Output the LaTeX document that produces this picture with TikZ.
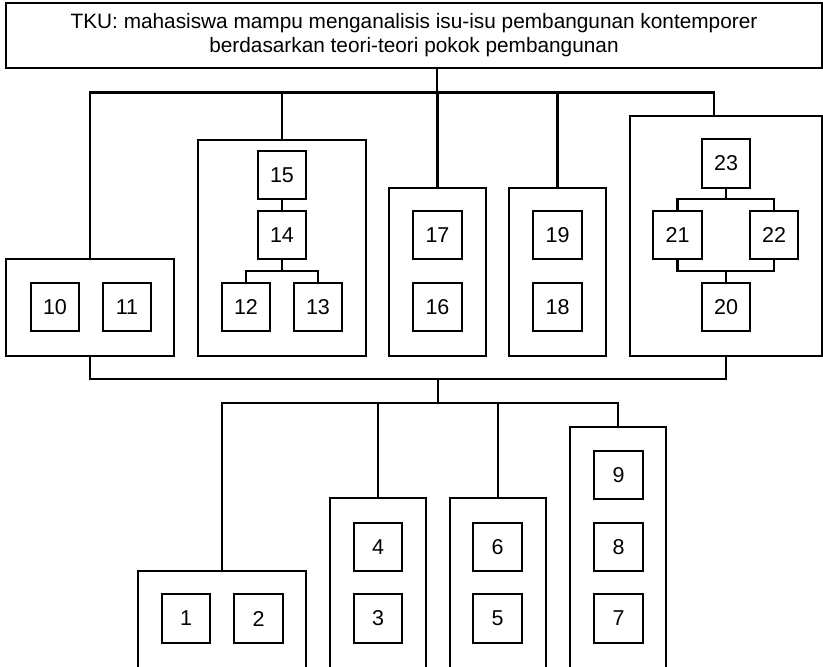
\documentclass[tikz,border=0pt]{standalone}
\usepackage{fontspec}
\setmainfont{Liberation Sans}
\begin{document}
\begin{tikzpicture}[x=1pt,y=-1pt,line width=2.1pt,
  inbox/.style={draw,minimum width=48.5pt,minimum height=48.5pt,inner sep=0pt,font=\fontsize{21.5}{24}\selectfont},
  outbox/.style={draw,inner sep=0pt},
  topbox/.style={draw,minimum width=816pt,minimum height=65pt,align=center,inner sep=0pt,font=\fontsize{20.8}{24}\selectfont}]
\useasboundingbox (0,0) rectangle (823,667);
\clip (0,0) rectangle (823,667);
% top
\node[topbox] (top) at (414,35.5) {TKU: mahasiswa mampu menganalisis isu-isu pembangunan kontemporer\\berdasarkan teori-teori pokok pembangunan};
% upper outer boxes
\node[outbox,minimum width=168pt,minimum height=97pt] (A) at (90,307.5) {};
\node[outbox,minimum width=168pt,minimum height=216pt] (B) at (282,248) {};
\node[outbox,minimum width=97pt,minimum height=168pt] (C) at (437.5,272) {};
\node[outbox,minimum width=97pt,minimum height=168pt] (D) at (557.5,272) {};
\node[outbox,minimum width=192pt,minimum height=240pt] (E) at (726,236) {};
% lower outer boxes
\node[outbox,minimum width=168pt,minimum height=119pt] (F) at (222,630.5) {};
\node[outbox,minimum width=96pt,minimum height=192pt] (G) at (378,594) {};
\node[outbox,minimum width=96pt,minimum height=192pt] (H) at (498,594) {};
\node[outbox,minimum width=96pt,minimum height=263pt] (I) at (618,558.5) {};
% inner boxes
\node[inbox] (n10) at (55,307) {10};
\node[inbox] (n11) at (127,307) {11};
\node[inbox] (n15) at (282,175) {15};
\node[inbox] (n14) at (282,235) {14};
\node[inbox] (n12) at (246,307) {12};
\node[inbox] (n13) at (318,307) {13};
\node[inbox] (n17) at (437.5,235) {17};
\node[inbox] (n16) at (437.5,307) {16};
\node[inbox] (n19) at (557.5,235) {19};
\node[inbox] (n18) at (557.5,307) {18};
\node[inbox] (n23) at (726,163.5) {23};
\node[inbox] (n21) at (677.5,235) {21};
\node[inbox] (n22) at (774,235) {22};
\node[inbox] (n20) at (726,307) {20};
\node[inbox] (n1) at (186,618.5) {1};
\node[inbox] (n2) at (258.5,618.5) {2};
\node[inbox] (n4) at (378,547) {4};
\node[inbox] (n3) at (378,618.5) {3};
\node[inbox] (n6) at (497.5,547) {6};
\node[inbox] (n5) at (497.5,618.5) {5};
\node[inbox] (n9) at (618.5,475) {9};
\node[inbox] (n8) at (618.5,547) {8};
\node[inbox] (n7) at (618.5,618.5) {7};
% top bus
\coordinate (tj) at (437,92.5);
\coordinate (ja) at (90,92.5);
\coordinate (je) at (714,92.5);
\draw (top.south -| tj) -- (tj);
\draw (A.north) -- (ja) -- (je) -- (je |- E.north);
\draw (B.north) -- (B.north |- ja);
\draw (C.north) -- (C.north |- ja);
\draw (D.north) -- (D.north |- ja);
% box B internal
\coordinate (m14) at (282,271);
\draw (n15) -- (n14);
\draw (n14.south) -- (m14);
\draw (n12.north) |- (m14) -| (n13.north);
% box E internal
\coordinate (m23) at (726,199);
\coordinate (m20) at (726,271);
\draw (n23.south) -- (m23);
\draw (n21.north) |- (m23) -| (n22.north);
\draw (n21.south) |- (m20) -| (n22.south);
\draw (n20.north) -- (m20);
% bottom bus
\coordinate (kb) at (438,379);
\coordinate (kc) at (438,403);
\draw (A.south) |- (kb) -| (E.south);
\draw (kb) -- (kc);
\draw (F.north) |- (kc) -| (I.north);
\draw (G.north) -- (G.north |- kc);
\draw (H.north) -- (H.north |- kc);
\end{tikzpicture}
\end{document}
